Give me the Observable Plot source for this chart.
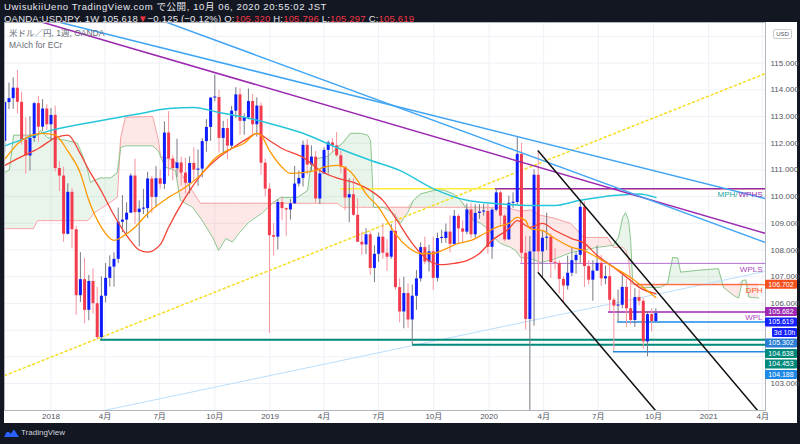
<!DOCTYPE html>
<html><head><meta charset="utf-8">
<script src="https://cdn.jsdelivr.net/npm/d3@7"></script>
<script src="https://cdn.jsdelivr.net/npm/@observablehq/plot@0.6"></script>
<style>
html,body{margin:0;padding:0;background:#131722;}
body{width:800px;height:444px;position:relative;overflow:hidden;font-family:"Liberation Sans","Noto Sans CJK JP",sans-serif;}
.hdr{position:absolute;left:4px;color:#e6e8ee;font-size:9.5px;line-height:11px;white-space:nowrap;font-family:"Liberation Sans","Noto Sans CJK JP",sans-serif;}
.r{color:#f23645;}
#chart{position:absolute;left:4px;top:22px;}
.leg{position:absolute;left:9px;color:#6a6d78;font-size:8.5px;line-height:9px;white-space:nowrap;font-family:"Liberation Sans","Noto Sans CJK JP",sans-serif;}
#usd{position:absolute;left:773px;top:29px;width:17px;height:8px;border:1px solid #c9ccd3;border-radius:2px;background:#fff;font-size:6px;line-height:8px;text-align:center;color:#50535e;font-family:"Liberation Sans",sans-serif;}
#tv{position:absolute;left:4px;top:428px;color:#d1d4dc;font-size:8px;line-height:10px;white-space:nowrap;display:flex;align-items:center;gap:2px;font-family:"Liberation Sans",sans-serif;}
</style></head><body>
<div class="hdr" style="top:0.5px;letter-spacing:0.6px">UwisukiiUeno TradingView.com で公開, 10月 06, 2020 20:55:02 JST</div>
<div class="hdr" style="top:13px;letter-spacing:0.2px">OANDA:USDJPY, 1W 105.618<span class="r">▼</span>−0.125 (−0.12%) O:<span class="r">105.320</span> H:<span class="r">105.796</span> L:<span class="r">105.297</span> C:<span class="r">105.619</span></div>
<div id="chart"></div>
<div class="leg" style="top:29px">米ドル／円, 1週, OANDA</div>
<div class="leg" style="top:41px">MAIch for ECr</div>
<div id="usd">USD</div>
<div id="tv"><svg width="15" height="10" viewBox="0 0 15 10"><path d="M0 9 L4 4 L6.5 6 L10 1.5 L15 9 Z" fill="#2962ff"/><circle cx="4" cy="6.5" r="2.6" fill="#2962ff"/></svg><span>TradingView</span></div>
<script>
// ---------- weekly candles, first week 2017-10-16 ----------
const firstWeek = "2017-10-16";
const opens = [112.07,
113.52,113.67,114.06,113.53,112.12,111.52,112.18,113.48,112.60,113.28,
112.69,113.04,111.05,110.77,108.59,110.16,108.76,106.29,106.89,105.74,
106.82,105.99,104.72,106.27,106.94,107.36,107.65,109.04,109.12,109.38,
110.77,109.40,109.53,109.55,110.66,109.97,110.67,110.46,112.38,111.41,
111.05,111.26,110.88,110.50,111.24,110.99,111.03,112.06,112.59,113.69,
113.71,112.18,112.55,111.89,113.20,113.81,112.82,112.95,113.56,112.69,
113.39,111.25,110.28,108.54,108.48,109.78,109.55,109.50,109.73,110.47,
110.68,111.92,111.18,111.48,109.91,110.85,111.73,112.01,111.90,111.53,
111.10,109.95,110.07,109.30,108.29,108.19,108.57,107.31,107.84,108.48,
107.88,107.73,108.70,106.59,105.68,106.37,105.38,106.27,106.92,108.09,
107.55,107.93,106.94,108.43,108.43,108.67,108.21,109.26,108.79,108.67,
109.50,108.57,109.37,109.42,109.44,108.10,109.49,110.14,109.27,108.38,
109.75,109.78,111.58,107.88,105.40,107.93,110.80,107.93,108.44,108.48,
107.53,107.50,106.90,106.65,107.13,107.60,107.80,109.60,107.38,106.87,
107.21,107.50,106.92,107.00,106.12,105.90,105.93,106.60,105.80,105.36,
106.22,106.08,104.56,105.58,105.32];
const highs = [113.57,114.25,114.45,114.73,113.91,112.95,112.99,113.52,113.75,113.63,
113.45,113.30,113.39,111.31,111.11,110.48,110.30,108.89,107.90,107.68,
107.05,107.29,106.60,107.00,107.49,107.78,107.89,109.57,110.04,109.77,
110.85,111.40,109.84,110.27,110.91,110.75,111.12,111.00,112.80,113.18,
111.53,112.15,111.48,111.44,111.49,111.83,111.75,112.17,112.88,113.70,
114.55,113.98,112.82,112.89,113.38,114.08,114.04,113.10,114.03,113.83,
113.70,113.51,111.41,110.48,108.99,109.88,109.99,109.58,109.89,111.13,
110.95,112.08,112.13,111.90,111.69,111.00,111.83,112.08,112.17,112.40,
111.69,111.10,110.67,110.68,109.92,108.67,108.80,108.68,108.16,108.64,
108.99,108.39,108.95,109.32,106.92,106.98,106.73,106.69,107.23,108.27,
108.48,108.18,108.48,108.63,108.74,108.97,109.28,109.48,109.32,109.10,
109.72,109.73,109.70,109.70,109.71,109.72,109.56,110.29,110.20,109.32,
110.02,110.14,112.23,112.00,108.51,108.50,111.00,111.71,108.70,109.38,
108.60,108.05,107.60,107.00,107.77,108.09,107.90,109.85,109.80,107.60,
107.60,108.15,107.80,107.40,107.40,106.20,106.50,107.05,106.90,106.95,
106.55,106.50,106.20,105.70,105.80,105.80];
const lows = [111.65,113.26,113.27,113.09,111.93,110.84,110.96,112.03,112.04,112.44,
112.48,112.05,110.92,110.19,108.28,108.56,108.05,105.55,106.03,105.24,
105.35,105.60,104.63,104.64,106.02,106.61,106.61,107.49,108.65,108.62,
109.37,108.95,108.12,109.33,109.18,109.37,109.58,110.27,110.27,110.75,
110.59,110.72,110.39,110.10,110.10,110.56,110.38,110.70,111.66,112.07,
113.55,111.63,111.62,111.38,111.78,112.92,112.30,112.30,112.87,112.23,
112.23,110.80,109.99,104.87,107.77,108.00,109.10,108.50,109.12,109.72,
110.36,110.36,110.80,110.95,109.75,109.70,110.84,110.85,111.63,111.47,
110.85,109.47,109.02,109.26,108.28,107.81,107.83,107.04,106.78,107.54,
107.65,107.20,107.65,106.49,105.27,105.05,105.07,104.45,105.74,106.80,
107.45,107.18,106.48,106.81,108.24,108.25,107.89,108.21,108.24,108.25,
108.57,108.43,108.44,109.15,109.27,107.84,107.65,109.43,108.87,108.31,
108.36,109.56,109.68,107.51,105.01,101.18,105.15,107.15,106.92,107.98,
106.93,107.25,106.35,106.00,106.50,107.00,107.10,107.50,106.60,106.70,
106.08,107.20,106.65,106.70,105.70,104.20,105.30,105.80,105.10,105.20,
105.10,105.90,104.28,104.00,104.94,105.30];
const closes = [113.52,113.67,114.06,113.53,112.12,111.52,112.18,113.48,112.60,113.28,
112.69,113.04,111.05,110.77,108.59,110.16,108.76,106.29,106.89,105.74,
106.82,105.99,104.72,106.27,106.94,107.36,107.65,109.04,109.12,109.38,
110.77,109.40,109.53,109.55,110.66,109.97,110.67,110.46,112.38,111.41,
111.05,111.26,110.88,110.50,111.24,110.99,111.03,112.06,112.59,113.69,
113.71,112.18,112.55,111.89,113.20,113.81,112.82,112.95,113.56,112.69,
113.39,111.25,110.28,108.54,108.48,109.78,109.55,109.50,109.73,110.47,
110.68,111.92,111.18,111.48,109.91,110.85,111.73,112.01,111.90,111.53,
111.10,109.95,110.07,109.30,108.29,108.19,108.57,107.31,107.84,108.48,
107.88,107.73,108.70,106.59,105.68,106.37,105.38,106.27,106.92,108.09,
107.55,107.93,106.94,108.43,108.43,108.67,108.21,109.26,108.79,108.67,
109.50,108.57,109.37,109.42,109.44,108.10,109.49,110.14,109.27,108.38,
109.75,109.78,111.58,107.88,105.40,107.93,110.80,107.93,108.44,108.48,
107.53,107.50,106.90,106.65,107.13,107.60,107.80,109.60,107.38,106.87,
107.21,107.50,106.92,107.00,106.12,105.90,105.93,106.60,105.80,105.36,
106.22,106.08,104.56,105.58,105.32,105.62];

// ---------- indicator lines: [week index, price] ----------
const slowMA = [[0,111.17],[4,111.5],[8,111.8],[12,112.2],[15,112.3],[18,111.6],[20,111.0],[23,110.2],[26,109.3],[29,108.55],[32,108.0],[34,107.92],[37,108.2],[39,108.85],[43,109.97],[47,110.87],[51,111.47],[55,111.9],[58,112.2],[60,112.37],[63,112.1],[66,111.8],[71,111.47],[75,110.98],[79,110.7],[83,110.53],[87,110.23],[90,109.86],[93,109.2],[97,108.25],[101,107.6],[104,107.45],[107,107.5],[110,107.6],[113,107.87],[116,108.36],[120,108.8],[122,109.1],[125,108.85],[128,109.0],[131,108.73],[135,108.43],[138,108.25],[141,107.8],[145,107.35],[149,106.86],[151,106.6],[155,106.37]];
const fastMA = [[0,111.4],[4,112.1],[9,112.37],[12,112.3],[15,111.7],[18,110.87],[20,109.86],[23,108.85],[26,108.36],[28,108.5],[31,108.85],[34,109.37],[39,109.97],[43,110.35],[47,110.87],[50,111.43],[53,111.73],[57,112.0],[60,112.37],[61,112.3],[63,111.73],[66,111.1],[68,110.87],[71,110.9],[74,110.98],[76,111.1],[79,111.17],[82,110.98],[84,110.6],[86,110.1],[89,109.6],[91,109.1],[93,108.6],[96,108.1],[99,107.87],[102,107.87],[104,107.98],[108,108.25],[111,108.36],[114,108.6],[117,108.85],[120,109.0],[122,109.22],[124,109.1],[125,108.8],[128,108.73],[131,108.43],[135,108.1],[138,107.98],[141,107.72],[145,107.35],[149,106.97],[152,106.6],[155,106.22]];
const longMA = [[0,111.9],[11,112.48],[23,112.85],[32,113.1],[39,113.3],[45,113.34],[51,113.15],[57,112.97],[63,112.74],[71,112.37],[79,111.84],[87,111.36],[94,110.98],[102,110.3],[110,109.86],[116,109.75],[125,109.67],[131,109.67],[137,109.86],[145,110.04],[151,110.1],[155,109.97]];

// Ichimoku cloud (week index, span A, span B)
const cloudWeek = [0,1.1,2.1,6.8,7.8,8.5,10.2,14.9,17.3,18.7,
19.7,20.4,21.1,22.8,25.2,26.8,27.6,28.7,35.2,36.6,
37.1,38.3,40.6,41.8,44.7,46.6,49.5,50.9,52.6,54.2,
55.6,58.0,61.4,63.7,65.6,69.7,72.1,72.8,74.5,76.8,
79.2,80.4,82.3,84.7,86.4,87.1,87.8,90.2,92.6,94.2,
95.9,97.3,99.0,102.1,104.5,106.8,108.5,110.2,111.6,113.3,
114.9,116.4,118.0,120.4,121.6,122.8,125.2,127.6,130.6,134.7,
137.1,137.8,141.1,143.5,144.9,146.1,147.1,147.8,148.5,149.0,
149.5,151.4,156.1,157.8,159.0,160.2,160.9,165.6,169.9,171.1,
173.5,174.7,175.6,176.4,177.1,179.5];
const spanA = [110.9,111.0,112.3,112.3,112.3,112.48,112.2,112.1,112.0,111.47,
111.0,110.53,110.6,110.7,110.7,110.9,111.84,111.9,111.9,111.7,
111.5,111.1,110.98,109.86,109.6,109.2,108.47,107.98,108.43,108.3,
108.6,109.03,109.4,109.75,109.97,109.97,110.23,111.1,111.43,111.5,
111.84,112.0,112.37,112.37,112.3,112.1,109.6,109.6,109.37,109.0,
109.4,109.86,110.1,110.23,110.25,110.1,109.86,109.48,109.1,109.0,
108.8,108.47,108.25,108.1,107.98,107.72,107.68,107.53,107.65,107.9,
107.98,108.0,108.1,108.15,108.17,108.47,109.22,109.4,109.1,108.36,
106.75,106.6,106.6,106.75,107.72,107.7,107.17,107.25,107.3,106.6,
106.3,106.2,106.86,106.88,106.24,106.2];
const spanB = [108.8,108.8,108.8,108.8,109.1,109.1,109.1,109.1,109.1,109.1,
109.1,109.2,109.37,109.55,109.8,109.97,112.2,112.97,113.0,112.1,
111.47,111.47,111.3,110.9,110.2,109.75,109.75,109.75,109.75,109.75,
109.75,109.75,109.75,109.75,109.75,109.75,109.75,109.75,109.75,109.75,
109.75,109.6,109.6,109.6,109.6,109.6,109.6,109.6,109.6,109.6,
109.6,109.6,109.6,109.6,109.6,109.6,109.6,109.6,109.6,109.6,
109.6,109.6,109.6,109.55,109.5,109.45,109.5,109.3,109.2,109.0,
108.6,108.47,108.47,108.47,108.1,108.1,108.1,108.0,107.7,106.75,
106.72,106.72,106.72,106.72,106.72,106.72,106.72,106.72,106.72,106.72,
106.72,106.72,106.72,106.72,106.72,106.72];

// drawn trend lines: [week index, price] end points
const purpleTrend = [[0,116.94],[182,108.58]];
const blueTrendA = [[0,117.04],[182,109.89]];
const blueTrendB = [[30,117.02],[182,108.23]];
const yellowTrend = [[0,103.3],[181.1,114.61]];
const paleBlueTrend = [[20,101.87],[181.1,107.2]];
const channelUpper = [[127,111.71],[184,101.10]];
const channelLower = [[127,107.15],[160,101.05]];

// horizontal levels: price and first week
const levelPrices = [110.29, 110.29, 107.50, 106.70, 105.682, 105.302, 104.188, 104.638, 104.453];
const levelStarts = [80, 116.8, 122.8, 150, 143.7, 145.9, 144.9, 22.8, 97.1];
const levelLabels = ["MPH/", "WPHS", "WPLS", "DPH", "WPL"];
const levelLabelPrices = [110.29, 110.29, 107.50, 106.70, 105.682];

// price tags on the right scale
const tagPrices = [106.702, 105.682, 105.619, 105.619, 105.302, 104.638, 104.453, 104.188];
const tagTexts = ["106.702", "105.682", "105.619", "3d 10h", "105.302", "104.638", "104.453", "104.188"];

// axis ticks (104 and 105 labels are hidden under the price tags, 116 under the USD badge)
const xTickDates = ["2018-01-01","2018-04-01","2018-07-01","2018-10-01","2019-01-01","2019-04-01","2019-07-01","2019-10-01","2020-01-01","2020-04-01","2020-07-01","2020-10-01","2021-01-01","2021-04-01"];
const gridPrices = [103,104,105,106,107,108,109,110,111,112,113,114,115,116];
const yTickLabels = [103,106,107,108,109,110,111,112,113,114,115];

// ---------- build ----------
const WEEK = 7 * 864e5;
const t0 = Date.parse(firstWeek + "T00:00:00Z");
const wk = w => new Date(t0 + w * WEEK);
const xStart = wk(-0.07), xEnd = wk(181.1);
const xTicks = xTickDates.map(s => new Date(s + "T00:00:00Z"));

const candles = closes.map((c, i) => ({date: wk(i), o: opens[i], h: highs[i], l: lows[i], c}));
const ups = candles.filter(d => d.c >= d.o), downs = candles.filter(d => d.c < d.o);
const bodyLo = d => Math.min(d.o, d.c), bodyHi = d => Math.max(Math.max(d.o, d.c), Math.min(d.o, d.c) + 0.04);

const cloud = cloudWeek.map((w, i) => ({date: wk(w), a: spanA[i], b: spanB[i]}));
const pts = arr => arr.map(([w, p]) => ({date: wk(w), p}));
const levels = levelPrices.map((p, i) => ({p, from: wk(levelStarts[i])}));
const lvl = idx => idx.map(i => levels[i]);
const labels = levelLabels.map((t, i) => ({t, p: levelLabelPrices[i]}));

const hline = (data, stroke, width) => Plot.ruleY(data, {y: "p", x1: "from", x2: () => xEnd, stroke, strokeWidth: width, clip: true});
const tline = (arr, stroke, width, extra = {}) => Plot.line(pts(arr), {x: "date", y: "p", stroke, strokeWidth: width, clip: true, ...extra});
const lab = (names, fill, dx) => Plot.text(labels.filter(d => names.includes(d.t)), {x: () => xEnd, y: "p", text: "t", textAnchor: "end", dx, dy: 6, fill, fontSize: 8});

const chart = Plot.plot({
  width: 793, height: 401,
  marginLeft: 0, marginRight: 32, marginTop: 0, marginBottom: 13,
  style: {background: "#ffffff", fontFamily: '"Liberation Sans","Noto Sans CJK JP",sans-serif', fontSize: "8px", color: "#50535e", overflow: "visible"},
  x: {type: "utc", domain: [xStart, xEnd], ticks: xTicks, tickFormat: d => d.getUTCMonth() === 0 ? String(d.getUTCFullYear()) : (d.getUTCMonth() + 1) + "月", tickSize: 0, tickPadding: 3, label: null},
  y: {domain: [101.99, 116.52], axis: "right", ticks: yTickLabels, tickFormat: d => d.toFixed(3), tickSize: 0, tickPadding: 5, label: null},
  marks: [
    Plot.ruleY(gridPrices, {stroke: "#eef1f7"}),
    Plot.ruleX(xTicks, {stroke: "#eef1f7"}),
    // cloud
    Plot.areaY(cloud, {x: "date", y1: "b", y2: d => Math.max(d.a, d.b), fill: "#4caf50", fillOpacity: 0.12, clip: true}),
    Plot.areaY(cloud, {x: "date", y1: "a", y2: d => Math.max(d.a, d.b), fill: "#f44336", fillOpacity: 0.12, clip: true}),
    Plot.line(cloud, {x: "date", y: "b", stroke: "#f5a3a3", strokeWidth: 1, clip: true}),
    Plot.line(cloud, {x: "date", y: "a", stroke: "#8cc58e", strokeWidth: 1, clip: true}),
    // trend lines behind
    tline(paleBlueTrend, "#bbdefb", 1),
    tline(yellowTrend, "#f5dd1f", 1.5, {strokeDasharray: "2,3"}),
    // horizontal levels
    hline(lvl([0]), "#ffeb3b", 1.5),
    hline(lvl([1]), "#9c27b0", 1.5),
    hline(lvl([2]), "#b26bd6", 1),
    hline(lvl([3]), "#ff5722", 1),
    hline(lvl([4]), "#9c27b0", 1.5),
    hline(lvl([5, 6]), "#1e88e5", 1.5),
    hline(lvl([7, 8]), "#00897b", 2),
    // candles
    Plot.ruleX(ups, {x: "date", y1: "l", y2: "h", stroke: "#777a84", strokeWidth: 1, clip: true}),
    Plot.ruleX(downs, {x: "date", y1: "l", y2: "h", stroke: "#f6959e", strokeWidth: 1, clip: true}),
    Plot.ruleX(ups, {x: "date", y1: bodyLo, y2: bodyHi, stroke: "#0d1cff", strokeWidth: 3, clip: true}),
    Plot.ruleX(downs, {x: "date", y1: bodyLo, y2: bodyHi, stroke: "#f23c4e", strokeWidth: 3, clip: true}),
    // moving averages
    tline(longMA, "#26c6da", 1.5, {curve: "monotone-x"}),
    tline(slowMA, "#f44336", 1.3, {curve: "monotone-x"}),
    tline(fastMA, "#ff9800", 1.3, {curve: "monotone-x"}),
    // trend lines
    tline(purpleTrend, "#9c27b0", 1.5),
    tline(blueTrendA, "#42a5f5", 1.5),
    tline(blueTrendB, "#42a5f5", 1.5),
    tline(channelUpper, "#111111", 1.5),
    tline(channelLower, "#111111", 1.5),
    // level labels
    lab(["WPHS"], "#9c27b0", -3),
    lab(["MPH/"], "#26a69a", -28),
    lab(["WPLS", "WPL"], "#ab47bc", -3),
    lab(["DPH"], "#ff5722", -3),
    Plot.frame({stroke: "#b2b5be"})
  ]
});
document.getElementById("chart").appendChild(chart);

// price tags drawn through the y scale, stacked so they do not overlap
const ys = chart.scale("y");
const tagColors = ["#f4511e", "#9c27b0", "#1520ff", "#1520ff", "#2a7fd4", "#00897b", "#00897b", "#1e88e5"];
const g = d3.select(chart).append("g").attr("font-family", '"Liberation Sans",sans-serif').attr("font-size", 7);
let prevBottom = -1e9;
const th = 9;
tagPrices.forEach((p, i) => {
  let cy = ys.apply(p);
  if (cy - th / 2 < prevBottom + 1.5) cy = prevBottom + 1.5 + th / 2;
  prevBottom = cy + th / 2;
  const x0 = tagTexts[i] === "3d 10h" ? 768 : 761;
  g.append("rect").attr("x", x0).attr("y", cy - th / 2).attr("width", 793 - x0).attr("height", th).attr("rx", 1).attr("fill", tagColors[i]);
  g.append("text").attr("x", (x0 + 793) / 2).attr("y", cy).attr("dy", "0.35em").attr("text-anchor", "middle").attr("fill", "#fff").text(tagTexts[i]);
});
</script>
</body></html>
